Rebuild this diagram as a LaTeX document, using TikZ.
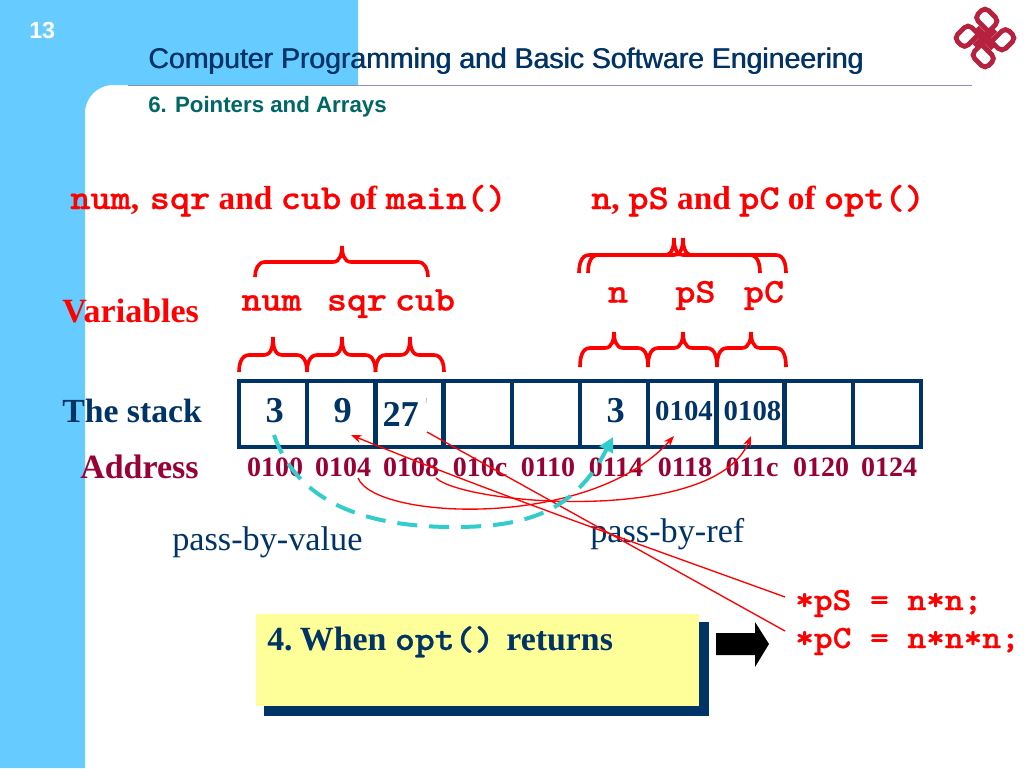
\documentclass[tikz,border=0pt]{standalone}
\usepackage{fontspec}
\setmainfont{Liberation Serif}
\setsansfont{Liberation Sans}
\setmonofont{Latin Modern Mono Light}[FakeStretch=1.1,BoldFeatures={FakeBold=0.7}]
\usetikzlibrary{arrows.meta}
\definecolor{sidebar}{HTML}{66CCFF}
\definecolor{navy}{HTML}{003366}
\definecolor{wine}{HTML}{990033}
\definecolor{tealtxt}{HTML}{006666}
\definecolor{cyanarrow}{HTML}{33CCCC}
\definecolor{boxyellow}{HTML}{FFFF99}
\definecolor{logored}{HTML}{B5213F}
\definecolor{rulecol}{HTML}{8E8EBE}
\newcommand{\fs}[1]{\fontsize{#1}{#1}\selectfont}
\newcommand{\mm}[1]{{\ttfamily\fs{26.2}#1}}
\newcommand{\redbrace}[7]{\draw[bracestroke] (#1,#5) to[out=90,in=180] (#1+10,#4) -- (#3-9,#4) to[out=0,in=-90] (#3,#6) to[out=-90,in=180] (#3+9,#4) -- (#2-10,#4) to[out=0,in=90] (#2,#7);}
\tikzset{
  x=0.75pt,y=-0.75pt,
  bracestroke/.style={draw=red,line width=2.7pt},
  stackcell/.style={draw=navy,line width=3.3pt,minimum width=51.2pt,minimum height=49.5pt,inner sep=0pt,outer sep=0pt,anchor=north west},
  lbl/.style={inner sep=0pt,anchor=base west},
  cval/.style={inner sep=0pt,anchor=base,text=navy,font=\bfseries\fs{27.3}},
  caddr/.style={inner sep=0pt,anchor=base,text=wine,font=\bfseries\fs{21}},
  varname/.style={inner sep=0pt,anchor=base,text=red,font=\ttfamily\bfseries\fs{26}},
  thinred/.style={draw=red,line width=1pt,-{Stealth[length=8pt,width=6pt]}},
  logostroke/.style={draw=logored,line width=3.6pt,rounded corners=4pt},
}
\begin{document}
\begin{tikzpicture}
\useasboundingbox (0,0) rectangle (1024,768);
\fill[white] (0,0) rectangle (1024,768);
\fill[sidebar] (0,0) -- (358,0) -- (358,85) -- (113,85) to[out=180,in=90] (85,113) -- (85,768) -- (0,768) -- cycle;
\draw[color=rulecol,line width=0.75pt] (128,85.5) -- (972,85.5);
\node[lbl,text=white,font=\sffamily\bfseries\fs{17.5}] (pageno) at (29,38) {13};
\node[lbl,text=navy,font=\sffamily\fs{21.3}] (title) at (148,68) {Computer Programming and Basic Software Engineering};
\node[lbl,text=navy,font=\sffamily\fs{21.3}] (titleb) at (148.7,68) {Computer Programming and Basic Software Engineering};
\node[lbl,text=tealtxt,font=\sffamily\bfseries\fs{16.7}] (sub) at (148,112) {6. Pointers and Arrays};
% logo
\begin{scope}[shift={(985,38)},rotate=45]
 \foreach \a in {0,90,180,270}{
  \begin{scope}[rotate=\a]
   \draw[logostroke] (2,-13) -- (2,22) -- (22,22) -- (22,7) -- (2,7);
  \end{scope}}
\end{scope}
% headings
\node[lbl,text=red,font=\bfseries\fs{25}] (h1) at (70,209) {\mm{num},\hspace{8pt}\mm{sqr} and \mm{cub} of \mm{main()}};
\node[lbl,text=red,font=\bfseries\fs{25}] (h2) at (591,209) {\mm{n},\hspace{6.5pt}\mm{pS} and \mm{pC} of \mm{opt()}};
% labels
\node[lbl,text=red,font=\bfseries\fs{25.5}] (lv) at (62,322) {Variables};
\node[lbl,text=navy,font=\bfseries\fs{25.3}] (ls) at (62,422) {The stack};
\node[lbl,text=wine,font=\bfseries\fs{25.5}] (la) at (80,478) {Address};
% names
\node[varname] (vnum) at (271.5,310.5) {num};
\node[varname] (vsqr) at (357,310.5) {sqr};
\node[varname] (vcub) at (425,310.5) {cub};
\node[varname] (vn) at (618,302.5) {n};
\node[varname] (vps) at (695.5,302.5) {pS};
\node[varname] (vpc) at (764,302.5) {pC};
% braces
\redbrace{255}{428}{342}{262}{277}{246}{277}
\redbrace{579}{760}{674}{255}{273}{238}{273}
\redbrace{588}{786}{683}{255}{273}{238}{273}
\redbrace{239}{307}{273}{355}{372}{337}{372}
\redbrace{307}{375.5}{342}{355}{372}{337}{372}
\redbrace{375.5}{444}{410}{355}{372}{337}{372}
\redbrace{580}{648}{614}{348}{367}{332}{367}
\redbrace{648}{717}{683}{348}{367}{332}{367}
\redbrace{717}{786}{751}{348}{367}{332}{367}
% stack
\foreach \i/\xx in {0/239,1/307.2,2/375.4,3/443.6,4/511.8,5/580,6/648.2,7/716.4,8/784.6,9/852.8}{
  \node[stackcell] (cell\i) at (\xx,381) {};
}
\node[cval] (v0) at (274.7,422.5) {3};
\node[cval] (v1) at (342.7,422) {9};
\node[cval] (v2) at (400.7,426) {27};
\node[cval] (v5) at (615.7,422.5) {3};
\node[cval,font=\bfseries\fs{21.6}] (v6) at (684,420) {0104};
\node[cval,font=\bfseries\fs{21.6}] (v7) at (752.5,420) {0108};
\draw[gray!60,line width=0.5pt] (426.5,398) -- (426,403);
% addresses
\foreach \n/\xx/\t in {a0/275/0100,a1/343/0104,a2/411/0108,a3/480/010c,a4/548/0110,a5/616/0114,a6/685/0118,a7/752/011c,a8/821/0120,a9/889/0124}{
  \node[caddr] (\n) at (\xx,476) {\t};
}
\node[lbl,text=navy,font=\fs{25.7}] (pv) at (172,550) {pass-by-value};
\node[lbl,text=navy,font=\fs{25.7}] (pr) at (590,542) {pass-by-ref};
% box
\fill[navy] (264,622) rectangle (709,716);
\node[fill=boxyellow,minimum width=332.25pt,minimum height=69pt,inner sep=0pt,anchor=north west] (box) at (256,614) {};
\node[lbl,text=navy,font=\bfseries\fs{25.4}] (boxt) at (267,650) {4.\hspace{5.5pt}When {\ttfamily\fs{25.8}opt()}\hspace{9pt}returns};
% black arrow
\fill[black] (716,633) -- (755,633) -- (755,622) -- (769,644) -- (755,667) -- (755,655) -- (716,655) -- cycle;
% code
\node[lbl,text=red,font=\ttfamily\bfseries\fs{24.3}] (c1) at (795,610) {*pS = n*n;};
\node[lbl,text=red,font=\ttfamily\bfseries\fs{24.3}] (c2) at (795,648) {*pC = n*n*n;};
\coordinate (c1e) at (785,597);
\coordinate (c2e) at (785,631);
\coordinate (t1) at (351,435);
\coordinate (t2) at (427,432);
% arrows
\draw[thinred] (358,478) .. controls (375,520) and (590,530) .. (674,436);
\draw[thinred] (436,478) .. controls (465,505) and (715,525) .. (751,436);
\draw[thinred] (c1e) .. controls (650,548) and (490,492) .. (t1);
\draw[draw=red,line width=1pt] (c2e) -- (t2);
\draw[draw=cyanarrow,line width=3pt,dash pattern=on 15pt off 9pt,-{Triangle[length=11pt,width=11pt]}] (274,435) .. controls (300,510) and (380,527) .. (454,527) .. controls (530,527) and (575,510) .. (613,437);
\end{tikzpicture}
\end{document}
